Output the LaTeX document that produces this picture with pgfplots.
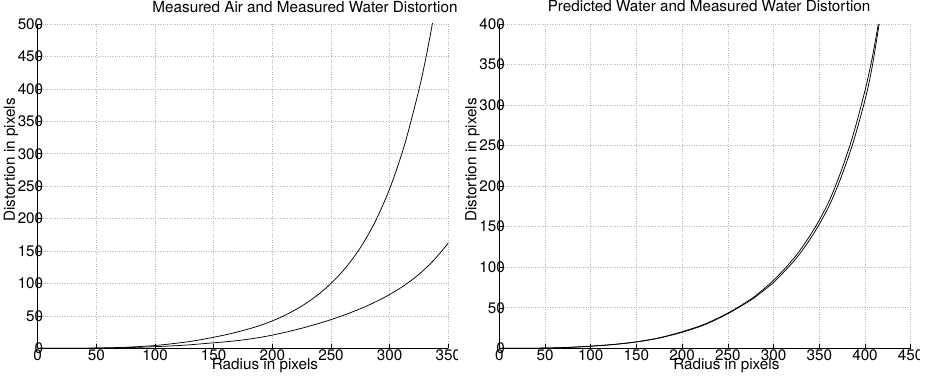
\documentclass[border=0pt]{standalone}
\usepackage{fontspec}
\setmainfont{TeX Gyre Heros}
\usepackage{pgfplots}
\pgfplotsset{compat=1.18}

\pgfplotsset{
  myax/.style={
    scale only axis,
    height=324.3pt,
    axis x line=bottom, axis y line=left,
    axis line style={-, line width=0.7pt, black},
    tick align=inside, major tick length=4pt,
    tick style={black, line width=0.5pt},
    grid=major, grid style={gray!55, dotted, line width=0.6pt},
    xmin=0, ymin=0,
    font=\fontsize{15.25}{18}\selectfont,
    /pgf/number format/assume math mode=true,
    every tick label/.append style={inner sep=0pt, outer sep=0pt},
    yticklabel shift=-5.5pt,
    xticklabel shift=1.7pt,
    ylabel style={at={(axis description cs:-0.065,0.5806)}, anchor=center},
    xlabel style={anchor=base, inner sep=0pt},
    title style={anchor=base, inner sep=0pt},
  },
  crv/.style={black, line width=0.75pt, smooth, tension=0.5, mark=none},
}

\begin{document}
\begin{tikzpicture}
\useasboundingbox (0,0) rectangle (931pt,377pt);

% Left panel
\begin{axis}[myax,
  at={(37.7pt,28.7pt)}, anchor=south west,
  width=410.6pt,
  xmax=350, ymax=500,
  xtick={0,50,...,350}, ytick={0,50,...,500},
  title={Measured Air and Measured Water Distortion},
  title style={at={(axis description cs:0.651,1.0176)}},
  xlabel={Radius in pixels},
  xlabel style={at={(axis description cs:0.5536,-0.0669)}},
  ylabel={Distortion in pixels},
]
\addplot[crv] coordinates {
  (0,0) (25,0.04) (50,0.4) (75,1.6) (100,4.3) (125,9.3) (137.5,12.8)
  (150,17) (162.5,21.8) (175,27.4) (187.5,34) (200,42.2) (212.5,52.4)
  (225,65) (237.5,80.6) (250,100) (262.5,124.2) (275,155) (287.5,194.7)
  (300,245.9) (312.5,312.4) (325,398.9) (331.6,454.3) (337.5,511) (340,536)
};
\addplot[crv] coordinates {
  (0,0) (25,0.04) (50,0.3) (75,1.0) (100,2.5) (125,4.8) (150,8.5)
  (162.5,10.4) (175,12.9) (187.5,16.2) (200,20.3) (212.5,25.3) (225,30.9)
  (237.5,37.2) (250,44.2) (262.5,52.1) (275,61) (287.5,71.1) (300,82.9)
  (312.5,96.9) (325,114.1) (337.5,135.6) (350,162.2)
};
\end{axis}

% Right panel
\begin{axis}[myax,
  at={(499.3pt,28.7pt)}, anchor=south west,
  width=411.4pt,
  xmax=450, ymax=400,
  xtick={0,50,...,450}, ytick={0,50,...,400},
  title={Predicted Water and Measured Water Distortion},
  title style={at={(axis description cs:0.510,1.02)}},
  xlabel={Radius in pixels},
  xlabel style={at={(axis description cs:0.5518,-0.0669)}},
  ylabel={Distortion in pixels},
]
\addplot[crv] coordinates {
  (0,0) (25,0.04) (50,0.3) (75,1.1) (100,2.7) (125,4.8) (150,8)
  (175,13) (200,20.5) (225,30) (250,43.5) (275,60.5) (287.5,71.5)
  (300,84) (312.5,98.5) (325,115) (337.5,135) (350,158) (362.5,186)
  (375,222) (387.5,265) (400,318) (407.5,356) (414.6,400)
};
\addplot[crv] coordinates {
  (0,0) (25,0.04) (50,0.3) (75,1.0) (100,2.5) (125,4.6) (150,7.8)
  (175,12.6) (200,19.8) (225,29.2) (250,42.7) (275,59.3) (287.5,69.8)
  (300,81.2) (312.5,95.5) (325,111.3) (337.5,130.5) (350,153)
  (362.5,179.8) (375,214.3) (387.5,255.5) (400,306.3) (407.5,345) (415.5,400)
};
\end{axis}

% clipped tick labels at panel edges
\fill[white] (458pt,8pt) rectangle (465pt,28pt);
\fill[white] (920pt,8pt) rectangle (931pt,28pt);
\end{tikzpicture}
\end{document}
